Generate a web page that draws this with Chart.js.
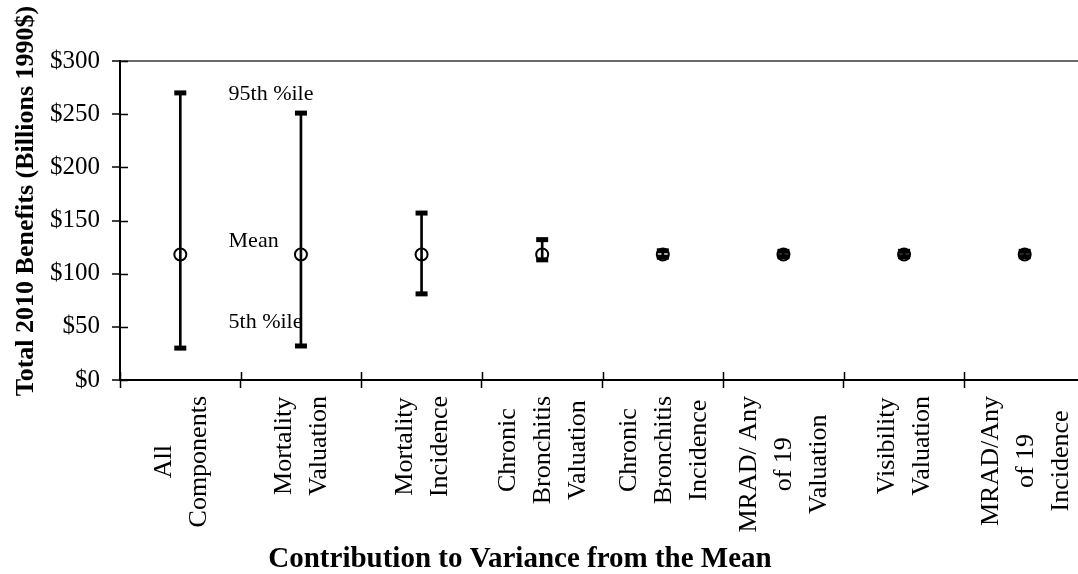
<!DOCTYPE html>
<html>
<head>
<meta charset="utf-8">
<title>Total 2010 Benefits – Contribution to Variance</title>
<script src="https://cdn.jsdelivr.net/npm/chart.js@4/dist/chart.umd.min.js"></script>
<style>
  html, body { margin: 0; padding: 0; background: #fff; overflow: hidden; }
  #wrap { width: 1078px; height: 574px; overflow: hidden; }
  canvas { display: block; }
</style>
</head>
<body>
<div id="wrap"><canvas id="c" width="1096" height="574"></canvas></div>
<script>
// Uncertainty components (billions of 1990 dollars)
const categories = [
  ['All', 'Components'],
  ['Mortality', 'Valuation'],
  ['Mortality', 'Incidence'],
  ['Chronic', 'Bronchitis', 'Valuation'],
  ['Chronic', 'Bronchitis', 'Incidence'],
  ['MRAD/ Any', 'of 19', 'Valuation'],
  ['Visibility', 'Valuation'],
  ['MRAD/Any', 'of 19', 'Incidence']
];
const meanValues = [118, 118, 118, 118, 118, 118, 118, 118];
const pct5Values = [30, 32, 81, 113, 115.5, 116, 116, 116];
const pct95Values = [270, 251, 157, 132, 121.5, 121, 121, 121];
const yTicks = [0, 50, 100, 150, 200, 250, 300];

// Text notes placed beside the first two ranges
const notes = [
  { text: '95th %ile', value: 263 },
  { text: 'Mean', value: 125 },
  { text: '5th %ile', value: 49 }
];

const SERIF = '"Liberation Serif", "Times New Roman", serif';

const textAndTicks = {
  id: 'textAndTicks',
  afterDraw(chart) {
    const { ctx, chartArea: area, scales: { x, y } } = chart;
    ctx.save();
    ctx.strokeStyle = '#000';
    ctx.lineWidth = 1.5;
    // inner halves of the crossing tick marks
    ctx.beginPath();
    for (let i = 0; i <= categories.length; i++) {
      const px = Math.round(x.getPixelForValue(i - 0.5)) + 0.5;
      ctx.moveTo(px, area.bottom);
      ctx.lineTo(px, area.bottom - 8);
    }
    y.ticks.forEach(t => {
      const py = Math.round(y.getPixelForValue(t.value)) + 0.5;
      ctx.moveTo(area.left, py);
      ctx.lineTo(area.left + 8, py);
    });
    ctx.stroke();

    ctx.fillStyle = '#000';
    // category labels: rotated, lines side by side, centred on the longest line
    ctx.font = '26px ' + SERIF;
    categories.forEach((lines, i) => {
      const cx = x.getPixelForValue(i);
      const longest = Math.max(...lines.map(l => ctx.measureText(l).width));
      const cy = area.bottom + 16 + longest / 2;
      lines.forEach((t, j) => {
        const lx = cx + 1 + (j - (lines.length - 1) / 2) * 35;
        ctx.save();
        ctx.translate(lx, cy);
        ctx.rotate(-Math.PI / 2);
        ctx.textAlign = 'center';
        ctx.textBaseline = 'middle';
        ctx.fillText(t, 0, 0);
        ctx.restore();
      });
    });

    // notes
    ctx.font = '22px ' + SERIF;
    ctx.textAlign = 'left';
    ctx.textBaseline = 'alphabetic';
    const nx = x.getPixelForValue(0.4);
    notes.forEach(n => ctx.fillText(n.text, nx, y.getPixelForValue(n.value)));

    // axis titles
    ctx.font = 'bold 26px ' + SERIF;
    ctx.save();
    ctx.translate(26, 201);
    ctx.rotate(-Math.PI / 2);
    ctx.textAlign = 'center';
    ctx.textBaseline = 'middle';
    ctx.fillText('Total 2010 Benefits (Billions 1990$)', 0, 0);
    ctx.restore();

    ctx.font = 'bold 29px ' + SERIF;
    ctx.textAlign = 'center';
    ctx.textBaseline = 'middle';
    ctx.fillText('Contribution to Variance from the Mean', 520, 560);
    ctx.restore();
  }
};

new Chart(document.getElementById('c'), {
  type: 'bar',
  data: {
    labels: categories,
    datasets: [
      {
        type: 'line',
        label: '95th percentile',
        data: pct95Values,
        showLine: false,
        pointStyle: 'line',
        pointRadius: 6,
        pointBorderWidth: 5,
        borderColor: '#000',
        order: 1
      },
      {
        type: 'line',
        label: '5th percentile',
        data: pct5Values,
        showLine: false,
        pointStyle: 'line',
        pointRadius: 6,
        pointBorderWidth: 5,
        borderColor: '#000',
        order: 1
      },
      {
        type: 'line',
        label: 'Mean',
        data: meanValues,
        showLine: false,
        pointStyle: 'circle',
        pointRadius: 6,
        pointBorderWidth: 2,
        borderColor: '#000',
        pointBackgroundColor: 'rgba(0,0,0,0)',
        order: 2
      },
      {
        type: 'bar',
        label: 'Range',
        data: pct5Values.map((lo, i) => [lo, pct95Values[i]]),
        backgroundColor: '#000',
        borderWidth: 0,
        barThickness: 2,
        grouped: false,
        order: 3
      }
    ]
  },
  options: {
    responsive: false,
    animation: false,
    devicePixelRatio: 1,
    layout: { padding: { left: 0, top: 61, right: 4, bottom: 0 } },
    plugins: { legend: { display: false }, tooltip: { enabled: false } },
    scales: {
      x: {
        type: 'category',
        offset: true,
        grid: {
          display: true, offset: true, drawOnChartArea: false,
          drawTicks: true, tickLength: 8, tickColor: '#000', tickWidth: 1.5
        },
        border: { display: true, color: '#000', width: 2 },
        ticks: { display: false },
        afterFit(scale) { scale.height = 194; }
      },
      y: {
        min: 0,
        max: 300,
        afterBuildTicks(scale) { scale.ticks = yTicks.map(v => ({ value: v })); },
        grid: {
          display: true, drawOnChartArea: true,
          color: ctx => (ctx.tick && ctx.tick.value === 300 ? '#6a6a6a' : 'rgba(0,0,0,0)'),
          lineWidth: 2,
          drawTicks: true, tickLength: 8, tickColor: '#000', tickWidth: 1.5
        },
        border: { display: true, color: '#000', width: 2 },
        ticks: {
          color: '#000',
          padding: 12,
          font: { family: SERIF, size: 25 },
          callback: v => '$' + v
        },
        afterFit(scale) { scale.width = 120; }
      }
    }
  },
  plugins: [textAndTicks]
});
</script>
</body>
</html>
